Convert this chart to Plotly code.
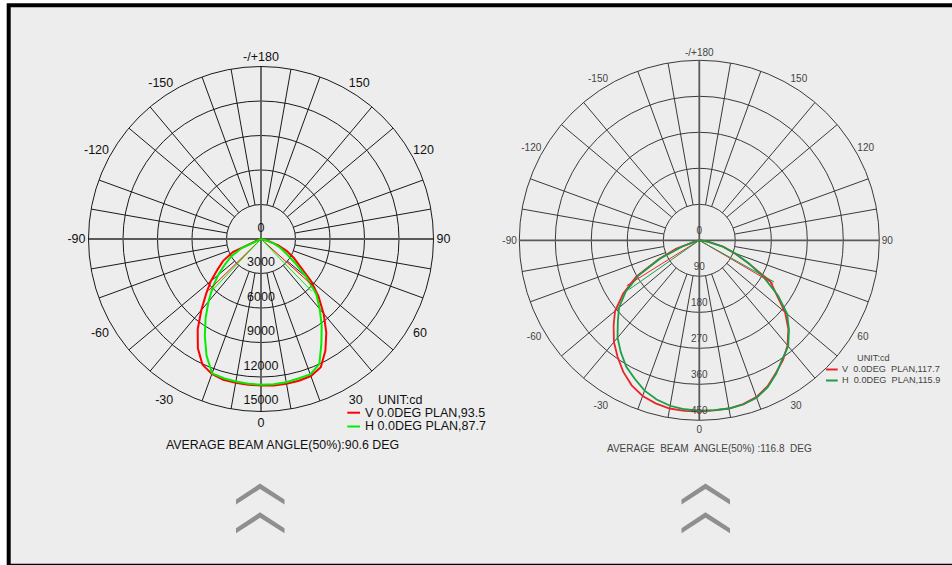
import plotly.graph_objects as go

W, H = 952, 565

# ---------------- data ----------------
ANGLES = [-90, -85, -80, -75, -70, -65, -60, -55, -50, -45, -40, -35, -30, -25, -20, -15, -10, -5,
          0, 5, 10, 15, 20, 25, 30, 35, 40, 45, 50, 55, 60, 65, 70, 75, 80, 85, 90]

# left chart (cd)
L_V = [0, 0, 0, 0, 300, 2700, 3800, 4600, 5700, 6750, 8070, 9600, 10980, 12050, 12480, 12670, 12700, 12720,
       12730, 12780, 12780, 12760, 12680, 12300, 11200, 9900, 8470, 7070, 5650, 4150, 3300, 2480, 1600, 700, 0, 0, 0]
L_H = [0, 0, 0, 0, 0, 1800, 2950, 3800, 4850, 5950, 7100, 8400, 9770, 11200, 12430, 12530, 12580, 12640,
       12670, 12670, 12650, 12560, 12530, 12000, 10500, 9200, 7950, 6800, 5150, 3600, 2550, 1900, 1250, 400, 0, 0, 0]

# right chart (cd)
R_V = [0, 0, 0, 10, 62, 112, 182, 232, 275, 303, 332, 356, 380, 400, 414, 422, 427, 428,
       428, 427, 427, 424, 417, 403, 383, 365, 343, 315, 280, 235, 205, 135, 94, 61, 24, 4, 0]
R_H = [0, 0, 0, 10, 45, 108, 175, 225, 262, 288, 318, 342, 365, 382, 400, 412, 420, 424,
       426, 426, 427, 425, 419, 405, 385, 362, 346, 317, 287, 240, 187, 137, 95, 62, 25, 5, 0]

# beam-angle (50%) half-angles
L_BEAM_V = [-45.5, 48.0]
L_BEAM_H = [-43.5, 44.2]
R_BEAM_V = [-58.0, 59.7]
R_BEAM_H = [-55.0, 60.9]

L_RTICKS = [0, 3000, 6000, 9000, 12000, 15000]
R_RTICKS = [0, 90, 180, 270, 360, 450]
ANG_TICKVALS = [0, 30, 60, 90, 120, 150, 180, 210, 240, 270, 300, 330]
ANG_TICKTEXT = ["0", "30", "60", "90", "120", "150", "-/+180", "-150", "-120", "-90", "-60", "-30"]
SPOKES = [10, 20, 40, 50, 70, 80, 100, 110, 130, 140, 160, 170,
          190, 200, 220, 230, 250, 260, 280, 290, 310, 320, 340, 350]

L_LEGEND = ["V 0.0DEG PLAN,93.5", "H 0.0DEG PLAN,87.7"]
R_LEGEND = ["V\u00a0\u00a00.0DEG\u00a0\u00a0PLAN,117.7", "H\u00a0\u00a00.0DEG\u00a0\u00a0PLAN,115.9"]
L_TITLE = "AVERAGE BEAM ANGLE(50%):90.6 DEG"
R_TITLE = "AVERAGE\u00a0\u00a0BEAM\u00a0\u00a0ANGLE(50%)\u00a0:116.8\u00a0\u00a0DEG"

# ---------------- helpers ----------------
def px(x):
    return x / W

def py(y):
    return 1 - y / H

LEFT_FONT = "Liberation Sans, Arial, sans-serif"
RIGHT_FONT = "Liberation Sans, Arial, sans-serif"

fig = go.Figure()


def add_chart(subplot, rticks, v, h, beam_v, beam_h, cv, ch, grid_col, axis_col, lw,
              txt_font, txt_size, txt_col, lbl_gap):
    rmin, rmax = rticks[1], rticks[-1]
    # spokes (start at first circle)
    sr, st = [], []
    for a in SPOKES:
        sr += [rmin, rmax, None]
        st += [a, a, None]
    fig.add_trace(go.Scatterpolar(r=sr, theta=st, mode="lines", subplot=subplot,
                                  line=dict(color=grid_col, width=1), hoverinfo="skip", showlegend=False))
    # main axes through the centre
    fig.add_trace(go.Scatterpolar(r=[rmax, 0, rmax, None, rmax, 0, rmax],
                                  theta=[0, 0, 180, None, 90, 90, 270], mode="lines", subplot=subplot,
                                  line=dict(color=axis_col, width=1.8), hoverinfo="skip", showlegend=False))
    # curves
    fig.add_trace(go.Scatterpolar(r=v, theta=ANGLES, mode="lines", subplot=subplot,
                                  line=dict(color=cv, width=lw), showlegend=False))
    fig.add_trace(go.Scatterpolar(r=h, theta=ANGLES, mode="lines", subplot=subplot,
                                  line=dict(color=ch, width=lw), showlegend=False))
    # beam lines
    hv = max(v) / 2
    hh = max(h) / 2
    fig.add_trace(go.Scatterpolar(r=[hv, 0, hv], theta=[beam_v[0], 0, beam_v[1]], mode="lines",
                                  subplot=subplot, line=dict(color=cv, width=1), showlegend=False))
    fig.add_trace(go.Scatterpolar(r=[hh, 0, hh], theta=[beam_h[0], 0, beam_h[1]], mode="lines",
                                  subplot=subplot, line=dict(color=ch, width=1), showlegend=False))
    # radial labels (invisible markers give the text a little offset)
    fig.add_trace(go.Scatterpolar(r=rticks, theta=[0] * len(rticks), mode="markers+text", subplot=subplot,
                                  marker=dict(size=lbl_gap, opacity=0),
                                  text=[str(t) for t in rticks], textposition="top center",
                                  textfont=dict(family=txt_font, size=txt_size, color=txt_col),
                                  showlegend=False, hoverinfo="skip"))


L_RED, L_GREEN = "#ff0000", "#00ee00"
R_RED, R_GREEN = "#e8262b", "#1a9e48"

add_chart("polar", L_RTICKS, L_V, L_H, L_BEAM_V, L_BEAM_H, L_RED, L_GREEN,
          "#1a1a1a", "#5a5a5a", 2, LEFT_FONT, 12.5, "#111111", 5)
add_chart("polar2", R_RTICKS, R_V, R_H, R_BEAM_V, R_BEAM_H, R_RED, R_GREEN,
          "#3a3a3a", "#5a5a5a", 1.8, RIGHT_FONT, 10, "#444444", 4.5)


def polar_layout(cx, cy, rad, rticks, grid_col, font, size, col):
    return dict(
        domain=dict(x=[px(cx - rad), px(cx + rad)], y=[py(cy + rad), py(cy - rad)]),
        bgcolor="rgba(0,0,0,0)",
        hole=0,
        radialaxis=dict(range=[0, rticks[-1]], tickvals=rticks[1:], showticklabels=False, ticks="",
                        showline=False, gridcolor=grid_col, gridwidth=1),
        angularaxis=dict(rotation=-90, direction="counterclockwise", tickvals=ANG_TICKVALS,
                         ticktext=ANG_TICKTEXT, ticks="", showgrid=False, showline=True,
                         linecolor=grid_col, linewidth=1,
                         tickfont=dict(family=font, size=size, color=col)),
    )


shapes = [
    # frame
    dict(type="rect", xref="paper", yref="paper", x0=px(8.7), x1=px(W + 20), y0=py(5.3), y1=py(565.8),
         line=dict(color="#000000", width=4), fillcolor="#ededed", layer="below"),
]


def chevron(cx, top):
    pts = [(cx, top), (cx + 24.5, top + 16), (cx + 24.5, top + 21), (cx, top + 5.5),
           (cx - 24, top + 21), (cx - 24, top + 16)]
    path = "M " + " L ".join(f"{px(x):.5f} {py(y):.5f}" for x, y in pts) + " Z"
    return dict(type="path", xref="paper", yref="paper", path=path, fillcolor="#8f8f8f",
                line=dict(width=0), layer="above")


for cx in (260, 705.5):
    shapes.append(chevron(cx, 483.5))
    shapes.append(chevron(cx, 512.3))

# legend sample lines
for (x0, x1, y, c) in [(347.3, 360, 412.7, L_RED), (347.3, 360, 426.5, L_GREEN),
                       (826, 837.7, 369.5, R_RED), (826, 837.7, 380.5, R_GREEN)]:
    shapes.append(dict(type="line", xref="paper", yref="paper", x0=px(x0), x1=px(x1), y0=py(y), y1=py(y),
                       line=dict(color=c, width=2)))


def ann(text, x, y, font, size, col, xanchor="left"):
    return dict(text=text, x=px(x), y=py(y), xref="paper", yref="paper", xanchor=xanchor, yanchor="middle",
                showarrow=False, font=dict(family=font, size=size, color=col))


annotations = [
    ann("UNIT:cd", 376, 400, LEFT_FONT, 12.5, "#111111"),
    ann(L_LEGEND[0], 363.3, 412.5, LEFT_FONT, 12.5, "#111111"),
    ann(L_LEGEND[1], 363.3, 426.2, LEFT_FONT, 12.5, "#111111"),
    ann(L_TITLE, 282, 444.7, LEFT_FONT, 12.4, "#111111", "center"),
    ann("UNIT:cd", 855, 358, RIGHT_FONT, 9.2, "#444444"),
    ann(R_LEGEND[0], 840, 369.3, RIGHT_FONT, 9.2, "#444444"),
    ann(R_LEGEND[1], 840, 380.3, RIGHT_FONT, 9.2, "#444444"),
    ann(R_TITLE, 709.8, 448.7, RIGHT_FONT, 10, "#444444", "center"),
]

fig.update_layout(
    width=W, height=H,
    margin=dict(l=0, r=0, t=0, b=0),
    paper_bgcolor="#ffffff",
    plot_bgcolor="rgba(0,0,0,0)",
    showlegend=False,
    polar=polar_layout(261, 239, 172.5, L_RTICKS, "#1a1a1a", LEFT_FONT, 12.5, "#111111"),
    polar2=polar_layout(699.3, 240.3, 180, R_RTICKS, "#3a3a3a", RIGHT_FONT, 10, "#444444"),
    shapes=shapes,
    annotations=annotations,
)

fig.write_html("out.html", config={"displayModeBar": False},
               post_script="document.body.style.margin='0px';document.body.style.overflow='hidden';")
